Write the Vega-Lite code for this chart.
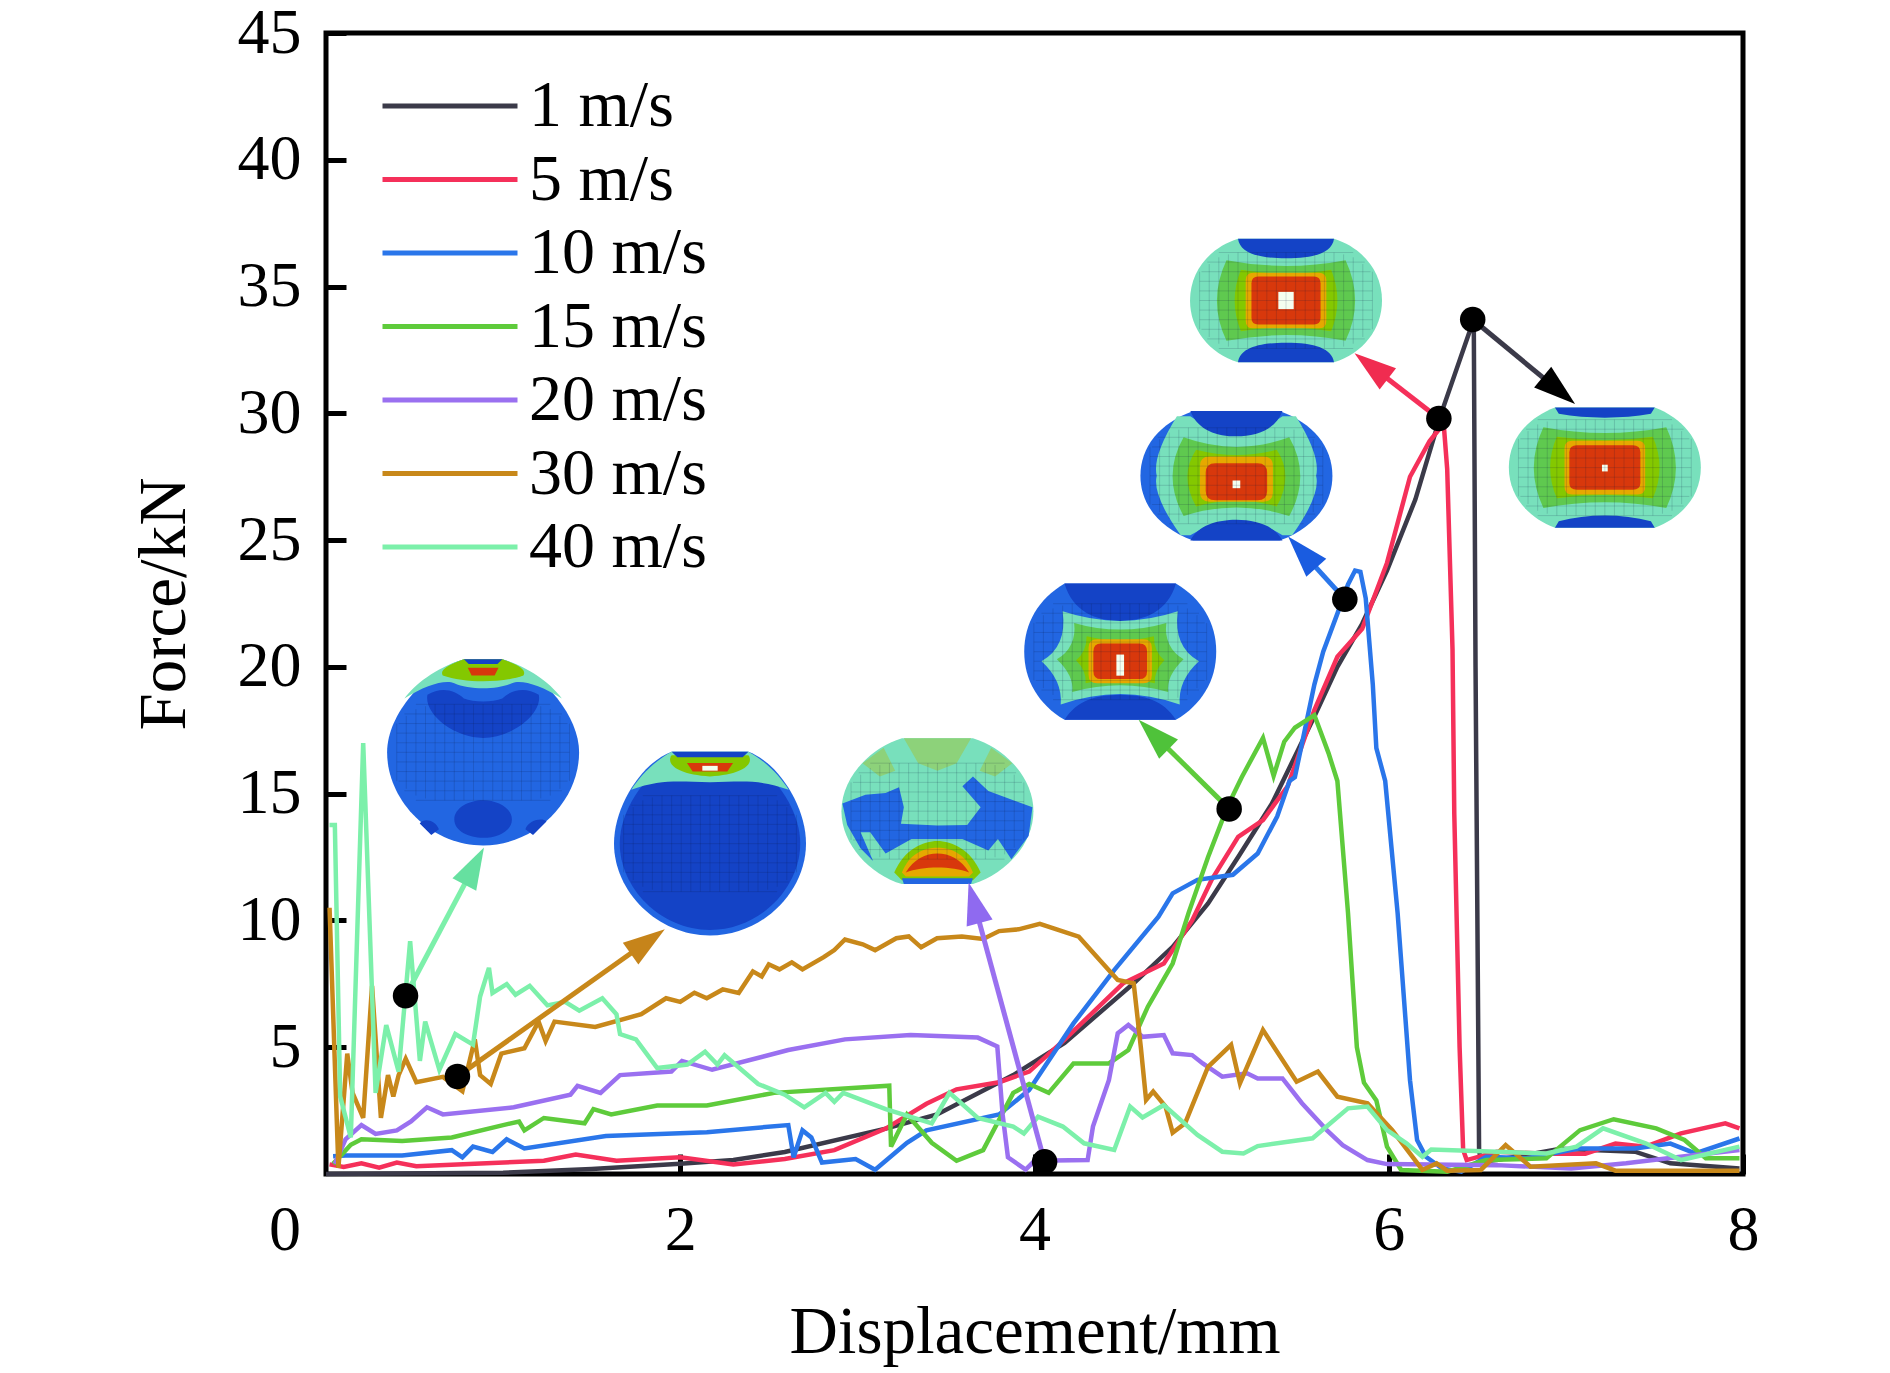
{
"$schema":"https://vega.github.io/schema/vega-lite/v6.json",
"width":1417,"height":1141,
"autosize":"none",
"padding":{"left":326,"top":33,"right":147,"bottom":199},
"background":"white",
"config":{
 "font":"Liberation Serif",
 "view":{"stroke":"black","strokeWidth":5},
 "axis":{"grid":false,"domain":false,"labelFont":"Liberation Serif","titleFont":"Liberation Serif","labelFontSize":64,"titleFontSize":67,"titleFontWeight":"normal","labelColor":"black","titleColor":"black","tickColor":"black","tickWidth":5,"tickSize":-20},
 "legend":{"labelFont":"Liberation Serif"}
},
"datasets":{
"curves":[
{"s":"1 m/s","d":0,"f":0},{"s":"1 m/s","d":1.0,"f":0.05},{"s":"1 m/s","d":1.5,"f":0.2},{"s":"1 m/s","d":2.0,"f":0.4},{"s":"1 m/s","d":2.3,"f":0.55},{"s":"1 m/s","d":2.59,"f":0.87},{"s":"1 m/s","d":3.16,"f":1.79},{"s":"1 m/s","d":3.45,"f":2.35},{"s":"1 m/s","d":3.88,"f":3.9},{"s":"1 m/s","d":4.17,"f":5.17},{"s":"1 m/s","d":4.56,"f":7.52},{"s":"1 m/s","d":4.78,"f":8.96},{"s":"1 m/s","d":4.98,"f":10.67},{"s":"1 m/s","d":5.15,"f":12.5},{"s":"1 m/s","d":5.34,"f":14.6},{"s":"1 m/s","d":5.58,"f":18.04},{"s":"1 m/s","d":5.71,"f":20.0},{"s":"1 m/s","d":5.85,"f":21.7},{"s":"1 m/s","d":5.99,"f":23.8},{"s":"1 m/s","d":6.15,"f":26.6},{"s":"1 m/s","d":6.29,"f":29.87},{"s":"1 m/s","d":6.48,"f":33.7},{"s":"1 m/s","d":6.49,"f":20},{"s":"1 m/s","d":6.51,"f":0.95},{"s":"1 m/s","d":6.52,"f":0.5},{"s":"1 m/s","d":6.61,"f":0.55},{"s":"1 m/s","d":6.97,"f":1.0},{"s":"1 m/s","d":7.39,"f":0.88},{"s":"1 m/s","d":7.59,"f":0.42},{"s":"1 m/s","d":7.98,"f":0.22},
{"s":"5 m/s","d":0.02,"f":0.38},{"s":"5 m/s","d":0.1,"f":0.28},{"s":"5 m/s","d":0.2,"f":0.42},{"s":"5 m/s","d":0.3,"f":0.25},{"s":"5 m/s","d":0.4,"f":0.45},{"s":"5 m/s","d":0.51,"f":0.31},{"s":"5 m/s","d":1.23,"f":0.52},{"s":"5 m/s","d":1.41,"f":0.77},{"s":"5 m/s","d":1.64,"f":0.52},{"s":"5 m/s","d":2.0,"f":0.66},{"s":"5 m/s","d":2.3,"f":0.38},{"s":"5 m/s","d":2.59,"f":0.59},{"s":"5 m/s","d":2.87,"f":0.94},{"s":"5 m/s","d":3.16,"f":1.79},{"s":"5 m/s","d":3.39,"f":2.77},{"s":"5 m/s","d":3.56,"f":3.34},{"s":"5 m/s","d":3.8,"f":3.62},{"s":"5 m/s","d":3.97,"f":4.04},{"s":"5 m/s","d":4.17,"f":5.3},{"s":"5 m/s","d":4.5,"f":7.52},{"s":"5 m/s","d":4.73,"f":8.3},{"s":"5 m/s","d":4.89,"f":10.0},{"s":"5 m/s","d":5.0,"f":11.6},{"s":"5 m/s","d":5.15,"f":13.3},{"s":"5 m/s","d":5.29,"f":13.96},{"s":"5 m/s","d":5.43,"f":15.3},{"s":"5 m/s","d":5.58,"f":18.3},{"s":"5 m/s","d":5.71,"f":20.4},{"s":"5 m/s","d":5.85,"f":21.5},{"s":"5 m/s","d":5.99,"f":24.1},{"s":"5 m/s","d":6.12,"f":27.5},{"s":"5 m/s","d":6.23,"f":28.9},{"s":"5 m/s","d":6.31,"f":29.6},{"s":"5 m/s","d":6.33,"f":27.8},{"s":"5 m/s","d":6.36,"f":20.7},{"s":"5 m/s","d":6.37,"f":14.2},{"s":"5 m/s","d":6.40,"f":5.0},{"s":"5 m/s","d":6.42,"f":0.95},{"s":"5 m/s","d":6.44,"f":0.55},{"s":"5 m/s","d":6.61,"f":0.88},{"s":"5 m/s","d":6.89,"f":0.8},{"s":"5 m/s","d":7.11,"f":0.8},{"s":"5 m/s","d":7.28,"f":1.2},{"s":"5 m/s","d":7.45,"f":1.08},{"s":"5 m/s","d":7.65,"f":1.6},{"s":"5 m/s","d":7.9,"f":2.0},{"s":"5 m/s","d":7.98,"f":1.8},
{"s":"10 m/s","d":0.04,"f":0.7},{"s":"10 m/s","d":0.11,"f":0.73},{"s":"10 m/s","d":0.43,"f":0.73},{"s":"10 m/s","d":0.71,"f":0.94},{"s":"10 m/s","d":0.77,"f":0.66},{"s":"10 m/s","d":0.83,"f":1.08},{"s":"10 m/s","d":0.94,"f":0.87},{"s":"10 m/s","d":1.02,"f":1.37},{"s":"10 m/s","d":1.12,"f":1.01},{"s":"10 m/s","d":1.58,"f":1.5},{"s":"10 m/s","d":2.15,"f":1.65},{"s":"10 m/s","d":2.61,"f":1.93},{"s":"10 m/s","d":2.64,"f":0.66},{"s":"10 m/s","d":2.69,"f":1.72},{"s":"10 m/s","d":2.74,"f":1.44},{"s":"10 m/s","d":2.8,"f":0.45},{"s":"10 m/s","d":2.99,"f":0.59},{"s":"10 m/s","d":3.1,"f":0.17},{"s":"10 m/s","d":3.28,"f":1.23},{"s":"10 m/s","d":3.39,"f":1.72},{"s":"10 m/s","d":3.8,"f":2.35},{"s":"10 m/s","d":3.97,"f":3.31},{"s":"10 m/s","d":4.22,"f":5.94},{"s":"10 m/s","d":4.45,"f":8.04},{"s":"10 m/s","d":4.7,"f":10.15},{"s":"10 m/s","d":4.78,"f":11.07},{"s":"10 m/s","d":4.92,"f":11.6},{"s":"10 m/s","d":5.12,"f":11.8},{"s":"10 m/s","d":5.26,"f":12.64},{"s":"10 m/s","d":5.37,"f":14.1},{"s":"10 m/s","d":5.44,"f":15.5},{"s":"10 m/s","d":5.47,"f":15.65},{"s":"10 m/s","d":5.58,"f":19.3},{"s":"10 m/s","d":5.63,"f":20.6},{"s":"10 m/s","d":5.71,"f":22.1},{"s":"10 m/s","d":5.77,"f":23.25},{"s":"10 m/s","d":5.81,"f":23.8},{"s":"10 m/s","d":5.84,"f":23.75},{"s":"10 m/s","d":5.87,"f":22.7},{"s":"10 m/s","d":5.91,"f":19.3},{"s":"10 m/s","d":5.93,"f":16.8},{"s":"10 m/s","d":5.98,"f":15.5},{"s":"10 m/s","d":6.05,"f":10.3},{"s":"10 m/s","d":6.12,"f":3.7},{"s":"10 m/s","d":6.16,"f":1.34},{"s":"10 m/s","d":6.21,"f":0.68},{"s":"10 m/s","d":6.3,"f":0.22},{"s":"10 m/s","d":6.41,"f":0.09},{"s":"10 m/s","d":6.55,"f":0.68},{"s":"10 m/s","d":6.78,"f":0.62},{"s":"10 m/s","d":7.08,"f":1.01},{"s":"10 m/s","d":7.39,"f":1.01},{"s":"10 m/s","d":7.59,"f":1.2},{"s":"10 m/s","d":7.73,"f":0.81},{"s":"10 m/s","d":7.98,"f":1.4},
{"s":"15 m/s","d":0.04,"f":0.4},{"s":"15 m/s","d":0.14,"f":1.15},{"s":"15 m/s","d":0.2,"f":1.37},{"s":"15 m/s","d":0.43,"f":1.3},{"s":"15 m/s","d":0.71,"f":1.44},{"s":"15 m/s","d":1.0,"f":1.93},{"s":"15 m/s","d":1.09,"f":2.07},{"s":"15 m/s","d":1.12,"f":1.72},{"s":"15 m/s","d":1.23,"f":2.21},{"s":"15 m/s","d":1.46,"f":2.0},{"s":"15 m/s","d":1.51,"f":2.56},{"s":"15 m/s","d":1.61,"f":2.35},{"s":"15 m/s","d":1.87,"f":2.7},{"s":"15 m/s","d":2.15,"f":2.7},{"s":"15 m/s","d":2.53,"f":3.2},{"s":"15 m/s","d":3.18,"f":3.48},{"s":"15 m/s","d":3.19,"f":1.08},{"s":"15 m/s","d":3.28,"f":2.35},{"s":"15 m/s","d":3.42,"f":1.23},{"s":"15 m/s","d":3.56,"f":0.52},{"s":"15 m/s","d":3.71,"f":0.94},{"s":"15 m/s","d":3.88,"f":3.2},{"s":"15 m/s","d":3.97,"f":3.55},{"s":"15 m/s","d":4.08,"f":3.2},{"s":"15 m/s","d":4.22,"f":4.36},{"s":"15 m/s","d":4.42,"f":4.36},{"s":"15 m/s","d":4.53,"f":4.89},{"s":"15 m/s","d":4.64,"f":6.6},{"s":"15 m/s","d":4.78,"f":8.3},{"s":"15 m/s","d":4.87,"f":10.3},{"s":"15 m/s","d":4.98,"f":12.5},{"s":"15 m/s","d":5.09,"f":14.5},{"s":"15 m/s","d":5.17,"f":15.65},{"s":"15 m/s","d":5.29,"f":17.2},{"s":"15 m/s","d":5.35,"f":15.7},{"s":"15 m/s","d":5.41,"f":17.05},{"s":"15 m/s","d":5.47,"f":17.6},{"s":"15 m/s","d":5.58,"f":18.1},{"s":"15 m/s","d":5.66,"f":16.6},{"s":"15 m/s","d":5.71,"f":15.5},{"s":"15 m/s","d":5.77,"f":10.3},{"s":"15 m/s","d":5.82,"f":5.0},{"s":"15 m/s","d":5.86,"f":3.6},{"s":"15 m/s","d":5.93,"f":2.9},{"s":"15 m/s","d":5.99,"f":1.08},{"s":"15 m/s","d":6.07,"f":0.16},{"s":"15 m/s","d":6.33,"f":0.09},{"s":"15 m/s","d":6.55,"f":0.55},{"s":"15 m/s","d":6.89,"f":0.62},{"s":"15 m/s","d":7.08,"f":1.73},{"s":"15 m/s","d":7.27,"f":2.16},{"s":"15 m/s","d":7.51,"f":1.8},{"s":"15 m/s","d":7.67,"f":1.34},{"s":"15 m/s","d":7.79,"f":0.62},{"s":"15 m/s","d":7.98,"f":0.62},
{"s":"20 m/s","d":0.05,"f":0.4},{"s":"20 m/s","d":0.11,"f":1.37},{"s":"20 m/s","d":0.2,"f":1.93},{"s":"20 m/s","d":0.28,"f":1.58},{"s":"20 m/s","d":0.4,"f":1.72},{"s":"20 m/s","d":0.48,"f":2.07},{"s":"20 m/s","d":0.57,"f":2.63},{"s":"20 m/s","d":0.66,"f":2.35},{"s":"20 m/s","d":1.06,"f":2.63},{"s":"20 m/s","d":1.38,"f":3.13},{"s":"20 m/s","d":1.42,"f":3.48},{"s":"20 m/s","d":1.55,"f":3.2},{"s":"20 m/s","d":1.66,"f":3.9},{"s":"20 m/s","d":1.95,"f":4.04},{"s":"20 m/s","d":2.01,"f":4.46},{"s":"20 m/s","d":2.18,"f":4.11},{"s":"20 m/s","d":2.61,"f":4.89},{"s":"20 m/s","d":2.93,"f":5.31},{"s":"20 m/s","d":3.3,"f":5.48},{"s":"20 m/s","d":3.68,"f":5.38},{"s":"20 m/s","d":3.79,"f":5.03},{"s":"20 m/s","d":3.82,"f":2.35},{"s":"20 m/s","d":3.85,"f":0.66},{"s":"20 m/s","d":3.95,"f":0.17},{"s":"20 m/s","d":4.0,"f":0.52},{"s":"20 m/s","d":4.3,"f":0.55},{"s":"20 m/s","d":4.33,"f":1.87},{"s":"20 m/s","d":4.42,"f":3.7},{"s":"20 m/s","d":4.47,"f":5.55},{"s":"20 m/s","d":4.53,"f":5.88},{"s":"20 m/s","d":4.61,"f":5.41},{"s":"20 m/s","d":4.73,"f":5.48},{"s":"20 m/s","d":4.78,"f":4.76},{"s":"20 m/s","d":4.89,"f":4.69},{"s":"20 m/s","d":4.95,"f":4.36},{"s":"20 m/s","d":5.06,"f":3.84},{"s":"20 m/s","d":5.2,"f":3.97},{"s":"20 m/s","d":5.26,"f":3.77},{"s":"20 m/s","d":5.4,"f":3.77},{"s":"20 m/s","d":5.51,"f":2.79},{"s":"20 m/s","d":5.65,"f":1.73},{"s":"20 m/s","d":5.74,"f":1.14},{"s":"20 m/s","d":5.88,"f":0.55},{"s":"20 m/s","d":5.99,"f":0.39},{"s":"20 m/s","d":6.61,"f":0.35},{"s":"20 m/s","d":7.03,"f":0.22},{"s":"20 m/s","d":7.34,"f":0.42},{"s":"20 m/s","d":7.73,"f":0.75},{"s":"20 m/s","d":7.98,"f":0.95},
{"s":"30 m/s","d":0.02,"f":10.5},{"s":"30 m/s","d":0.07,"f":0.24},{"s":"30 m/s","d":0.12,"f":4.75},{"s":"30 m/s","d":0.15,"f":3.2},{"s":"30 m/s","d":0.21,"f":2.21},{"s":"30 m/s","d":0.26,"f":7.42},{"s":"30 m/s","d":0.31,"f":2.21},{"s":"30 m/s","d":0.35,"f":3.9},{"s":"30 m/s","d":0.38,"f":3.06},{"s":"30 m/s","d":0.41,"f":3.9},{"s":"30 m/s","d":0.45,"f":4.54},{"s":"30 m/s","d":0.51,"f":3.62},{"s":"30 m/s","d":0.66,"f":3.83},{"s":"30 m/s","d":0.77,"f":3.27},{"s":"30 m/s","d":0.84,"f":5.31},{"s":"30 m/s","d":0.87,"f":3.9},{"s":"30 m/s","d":0.93,"f":3.55},{"s":"30 m/s","d":0.99,"f":4.75},{"s":"30 m/s","d":1.12,"f":4.96},{"s":"30 m/s","d":1.2,"f":6.01},{"s":"30 m/s","d":1.24,"f":5.24},{"s":"30 m/s","d":1.29,"f":6.01},{"s":"30 m/s","d":1.52,"f":5.8},{"s":"30 m/s","d":1.78,"f":6.3},{"s":"30 m/s","d":1.92,"f":6.93},{"s":"30 m/s","d":2.0,"f":6.79},{"s":"30 m/s","d":2.08,"f":7.15},{"s":"30 m/s","d":2.15,"f":6.93},{"s":"30 m/s","d":2.24,"f":7.28},{"s":"30 m/s","d":2.33,"f":7.14},{"s":"30 m/s","d":2.41,"f":7.99},{"s":"30 m/s","d":2.46,"f":7.79},{"s":"30 m/s","d":2.5,"f":8.27},{"s":"30 m/s","d":2.56,"f":8.07},{"s":"30 m/s","d":2.63,"f":8.35},{"s":"30 m/s","d":2.69,"f":8.07},{"s":"30 m/s","d":2.81,"f":8.55},{"s":"30 m/s","d":2.87,"f":8.83},{"s":"30 m/s","d":2.93,"f":9.25},{"s":"30 m/s","d":3.03,"f":9.06},{"s":"30 m/s","d":3.1,"f":8.83},{"s":"30 m/s","d":3.22,"f":9.3},{"s":"30 m/s","d":3.29,"f":9.37},{"s":"30 m/s","d":3.36,"f":8.94},{"s":"30 m/s","d":3.45,"f":9.3},{"s":"30 m/s","d":3.59,"f":9.37},{"s":"30 m/s","d":3.71,"f":9.27},{"s":"30 m/s","d":3.8,"f":9.58},{"s":"30 m/s","d":3.91,"f":9.65},{"s":"30 m/s","d":4.03,"f":9.87},{"s":"30 m/s","d":4.25,"f":9.36},{"s":"30 m/s","d":4.42,"f":8.04},{"s":"30 m/s","d":4.47,"f":7.65},{"s":"30 m/s","d":4.56,"f":7.52},{"s":"30 m/s","d":4.6,"f":5.02},{"s":"30 m/s","d":4.63,"f":2.92},{"s":"30 m/s","d":4.67,"f":3.25},{"s":"30 m/s","d":4.74,"f":2.66},{"s":"30 m/s","d":4.78,"f":1.63},{"s":"30 m/s","d":4.85,"f":2.0},{"s":"30 m/s","d":4.98,"f":4.23},{"s":"30 m/s","d":5.11,"f":5.09},{"s":"30 m/s","d":5.16,"f":3.58},{"s":"30 m/s","d":5.29,"f":5.68},{"s":"30 m/s","d":5.48,"f":3.64},{"s":"30 m/s","d":5.6,"f":4.04},{"s":"30 m/s","d":5.71,"f":3.05},{"s":"30 m/s","d":5.88,"f":2.79},{"s":"30 m/s","d":6.02,"f":1.73},{"s":"30 m/s","d":6.19,"f":0.16},{"s":"30 m/s","d":6.27,"f":0.42},{"s":"30 m/s","d":6.33,"f":0.13},{"s":"30 m/s","d":6.52,"f":0.16},{"s":"30 m/s","d":6.66,"f":1.14},{"s":"30 m/s","d":6.8,"f":0.29},{"s":"30 m/s","d":7.17,"f":0.42},{"s":"30 m/s","d":7.28,"f":0.13},{"s":"30 m/s","d":7.98,"f":0.13},
{"s":"40 m/s","d":0.02,"f":13.76},{"s":"40 m/s","d":0.05,"f":13.76},{"s":"40 m/s","d":0.08,"f":3.06},{"s":"40 m/s","d":0.14,"f":1.44},{"s":"40 m/s","d":0.21,"f":17.0},{"s":"40 m/s","d":0.28,"f":3.2},{"s":"40 m/s","d":0.34,"f":5.87},{"s":"40 m/s","d":0.41,"f":4.04},{"s":"40 m/s","d":0.475,"f":9.18},{"s":"40 m/s","d":0.53,"f":4.46},{"s":"40 m/s","d":0.56,"f":6.01},{"s":"40 m/s","d":0.64,"f":4.11},{"s":"40 m/s","d":0.73,"f":5.52},{"s":"40 m/s","d":0.83,"f":5.1},{"s":"40 m/s","d":0.87,"f":7.0},{"s":"40 m/s","d":0.92,"f":8.13},{"s":"40 m/s","d":0.94,"f":7.14},{"s":"40 m/s","d":1.02,"f":7.49},{"s":"40 m/s","d":1.07,"f":7.07},{"s":"40 m/s","d":1.15,"f":7.42},{"s":"40 m/s","d":1.25,"f":6.65},{"s":"40 m/s","d":1.35,"f":6.79},{"s":"40 m/s","d":1.43,"f":6.44},{"s":"40 m/s","d":1.56,"f":6.93},{"s":"40 m/s","d":1.64,"f":6.3},{"s":"40 m/s","d":1.66,"f":5.52},{"s":"40 m/s","d":1.75,"f":5.31},{"s":"40 m/s","d":1.87,"f":4.18},{"s":"40 m/s","d":2.04,"f":4.32},{"s":"40 m/s","d":2.14,"f":4.82},{"s":"40 m/s","d":2.21,"f":4.32},{"s":"40 m/s","d":2.25,"f":4.68},{"s":"40 m/s","d":2.44,"f":3.55},{"s":"40 m/s","d":2.59,"f":3.13},{"s":"40 m/s","d":2.7,"f":2.63},{"s":"40 m/s","d":2.82,"f":3.2},{"s":"40 m/s","d":2.87,"f":2.85},{"s":"40 m/s","d":2.92,"f":3.2},{"s":"40 m/s","d":3.16,"f":2.56},{"s":"40 m/s","d":3.42,"f":2.0},{"s":"40 m/s","d":3.52,"f":3.2},{"s":"40 m/s","d":3.68,"f":2.21},{"s":"40 m/s","d":3.88,"f":1.87},{"s":"40 m/s","d":3.94,"f":1.6},{"s":"40 m/s","d":4.02,"f":2.26},{"s":"40 m/s","d":4.16,"f":1.87},{"s":"40 m/s","d":4.28,"f":1.21},{"s":"40 m/s","d":4.45,"f":0.95},{"s":"40 m/s","d":4.54,"f":2.66},{"s":"40 m/s","d":4.61,"f":2.23},{"s":"40 m/s","d":4.73,"f":2.72},{"s":"40 m/s","d":4.92,"f":1.54},{"s":"40 m/s","d":5.06,"f":0.88},{"s":"40 m/s","d":5.18,"f":0.81},{"s":"40 m/s","d":5.26,"f":1.1},{"s":"40 m/s","d":5.57,"f":1.41},{"s":"40 m/s","d":5.77,"f":2.59},{"s":"40 m/s","d":5.88,"f":2.66},{"s":"40 m/s","d":5.99,"f":1.73},{"s":"40 m/s","d":6.1,"f":1.21},{"s":"40 m/s","d":6.19,"f":0.68},{"s":"40 m/s","d":6.24,"f":0.97},{"s":"40 m/s","d":6.89,"f":0.81},{"s":"40 m/s","d":7.06,"f":1.08},{"s":"40 m/s","d":7.21,"f":1.8},{"s":"40 m/s","d":7.45,"f":1.21},{"s":"40 m/s","d":7.65,"f":0.55},{"s":"40 m/s","d":7.98,"f":1.08}
],
"arrows":[
{"s":"1 m/s","d":6.474,"f":33.7,"bd":6.921,"bf":31.12,"td":7.052,"tf":30.37,"bearing":129.5},
{"s":"5 m/s","d":6.283,"f":29.8,"bd":5.941,"bf":31.65,"td":5.807,"tf":32.37,"bearing":307.6},
{"s":"10 m/s","d":5.752,"f":22.67,"bd":5.545,"bf":24.26,"td":5.432,"tf":25.14,"bearing":317.9},
{"s":"15 m/s","d":5.099,"f":14.4,"bd":4.709,"bf":17.09,"td":4.588,"tf":17.92,"bearing":314.6},
{"s":"20 m/s","d":4.057,"f":0.48,"bd":3.672,"bf":10.36,"td":3.628,"tf":11.5,"bearing":344.8},
{"s":"30 m/s","d":0.742,"f":3.85,"bd":1.775,"bf":8.97,"td":1.913,"tf":9.65,"bearing":54.6},
{"s":"40 m/s","d":0.449,"f":7.03,"bd":0.813,"bf":11.83,"td":0.892,"tf":12.88,"bearing":27.9}
],
"origin":[{"d":0,"f":0,"label":"0"}],
"centers":[{"d":0.887,"f":16.63},{"d":2.168,"f":13.03},{"d":3.452,"f":14.31},{"d":4.484,"f":20.6},{"d":5.14,"f":27.54},{"d":5.42,"f":34.45},{"d":7.22,"f":27.86}],
"insets":[
{"d":0.887,"f":16.63,"part":"a_body","level":"blue"},{"d":0.887,"f":16.63,"part":"a_dark","level":"deep"},{"d":0.887,"f":16.63,"part":"a_teal","level":"teal"},{"d":0.887,"f":16.63,"part":"a_lime","level":"lime"},{"d":0.887,"f":16.63,"part":"a_red","level":"red"},{"d":0.887,"f":16.63,"part":"a_cap","level":"deep"},
{"d":2.168,"f":13.03,"part":"b_body","level":"blue"},{"d":2.168,"f":13.03,"part":"b_dark","level":"deep"},{"d":2.168,"f":13.03,"part":"b_teal","level":"teal"},{"d":2.168,"f":13.03,"part":"b_lime","level":"lime"},{"d":2.168,"f":13.03,"part":"b_red","level":"red"},{"d":2.168,"f":13.03,"part":"b_white","level":"white"},{"d":2.168,"f":13.03,"part":"b_cap","level":"deep"},
{"d":3.452,"f":14.31,"part":"c_body","level":"teal"},{"d":3.452,"f":14.31,"part":"c_pale","level":"pale"},{"d":3.452,"f":14.31,"part":"c_blue","level":"blue"},{"d":3.452,"f":14.31,"part":"c_lime","level":"lime"},{"d":3.452,"f":14.31,"part":"c_orange","level":"orange"},{"d":3.452,"f":14.31,"part":"c_red","level":"red"},{"d":3.452,"f":14.31,"part":"c_cap","level":"blue"},
{"d":4.484,"f":20.6,"part":"d_body","level":"blue"},{"d":4.484,"f":20.6,"part":"d_caps","level":"deep"},{"d":4.484,"f":20.6,"part":"d_teal","level":"teal"},{"d":4.484,"f":20.6,"part":"d_green","level":"green"},{"d":4.484,"f":20.6,"part":"d_lime","level":"lime"},{"d":4.484,"f":20.6,"part":"d_orange","level":"orange"},{"d":4.484,"f":20.6,"part":"d_red","level":"red"},{"d":4.484,"f":20.6,"part":"d_white","level":"white"},
{"d":5.14,"f":27.54,"part":"e_body","level":"blue"},{"d":5.14,"f":27.54,"part":"e_teal","level":"teal"},{"d":5.14,"f":27.54,"part":"e_caps","level":"deep"},{"d":5.14,"f":27.54,"part":"e_green","level":"green"},{"d":5.14,"f":27.54,"part":"e_lime","level":"lime"},{"d":5.14,"f":27.54,"part":"e_orange","level":"orange"},{"d":5.14,"f":27.54,"part":"e_red","level":"red"},{"d":5.14,"f":27.54,"part":"e_white","level":"white"},
{"d":5.42,"f":34.45,"part":"f_body","level":"teal"},{"d":5.42,"f":34.45,"part":"f_caps","level":"deep"},{"d":5.42,"f":34.45,"part":"f_green","level":"green"},{"d":5.42,"f":34.45,"part":"f_lime","level":"lime"},{"d":5.42,"f":34.45,"part":"f_orange","level":"orange"},{"d":5.42,"f":34.45,"part":"f_red","level":"red"},{"d":5.42,"f":34.45,"part":"f_white","level":"white"},
{"d":7.22,"f":27.86,"part":"g_body","level":"teal"},{"d":7.22,"f":27.86,"part":"g_caps","level":"deep"},{"d":7.22,"f":27.86,"part":"g_green","level":"green"},{"d":7.22,"f":27.86,"part":"g_lime","level":"lime"},{"d":7.22,"f":27.86,"part":"g_orange","level":"orange"},{"d":7.22,"f":27.86,"part":"g_red","level":"red"},{"d":7.22,"f":27.86,"part":"g_white","level":"white"}
]
},
"layer":[
{"data":{"name":"insets"},
 "mark":{"type":"point","filled":true,"opacity":1,"strokeWidth":0,"size":36864},
 "encoding":{
  "x":{"field":"d","type":"quantitative","scale":{"domain":[0,8],"nice":false},"axis":{"values":[2,4,6,8],"format":"d","title":"Displacement/mm","labelPadding":44,"labelFlush":false,"titlePadding":37}},
  "y":{"field":"f","type":"quantitative","scale":{"domain":[0,45],"nice":false},"axis":{"values":[5,10,15,20,25,30,35,40,45],"format":"d","title":"Force/kN","labelPadding":45,"titlePadding":39}},
  "fill":{"field":"level","type":"nominal","legend":null,"scale":{"domain":["blue","deep","teal","pale","green","lime","orange","red","white","1 m/s","5 m/s","10 m/s","15 m/s","20 m/s","30 m/s","40 m/s"],"range":["#2266e2","#1443c6","#78e0bc","#8dd27a","#5fc94f","#84c800","#e6a800","#d8380c","#f4fff0","#000000","#f02c50","#1a5ce0","#4fc23a","#8f6af0","#c6841a","#66e0a0"]}},
  "shape":{"field":"part","type":"nominal","legend":null,"scale":{
   "domain":["a_body","a_dark","a_teal","a_lime","a_red","a_cap","b_body","b_dark","b_teal","b_lime","b_red","b_white","b_cap","c_body","c_pale","c_blue","c_lime","c_orange","c_red","c_cap","d_body","d_caps","d_teal","d_green","d_lime","d_orange","d_red","d_white","e_body","e_teal","e_caps","e_green","e_lime","e_orange","e_red","e_white","f_body","f_caps","f_green","f_lime","f_orange","f_red","f_white","g_body","g_caps","g_green","g_lime","g_orange","g_red","g_white"],
   "range":[
   "M-.2,-.97H.2C.6,-.85 1,-.4 1,0C1,.5 .55,.97 0,.97C-.55,.97 -1,.5 -1,0C-1,-.4 -.6,-.85 -.2,-.97Z",
   "M-.58,-.6C-.45,-.68 -.3,-.66 -.2,-.56C-.1,-.52 .1,-.52 .2,-.56C.3,-.66 .45,-.68 .58,-.6C.62,-.4 .3,-.15 0,-.15C-.3,-.15 -.62,-.4 -.58,-.6ZM-.3,.7C-.3,.58 -.15,.5 0,.5C.15,.5 .3,.58 .3,.7C.3,.82 .15,.89 0,.89C-.15,.89 -.3,.82 -.3,.7ZM-.66,.74C-.62,.68 -.5,.7 -.46,.8L-.54,.86ZM.66,.72C.62,.68 .48,.7 .44,.8L.52,.86Z",
   "M-.2,-.97H.2C.5,-.88 .72,-.7 .82,-.56C.6,-.7 .4,-.76 .3,-.72C.15,-.65 -.15,-.65 -.3,-.72C-.4,-.76 -.6,-.7 -.82,-.56C-.72,-.7 -.5,-.88 -.2,-.97Z",
   "M-.2,-.97H.2C.4,-.9 .45,-.85 .42,-.8C.2,-.72 -.2,-.72 -.42,-.8C-.45,-.85 -.4,-.9 -.2,-.97Z",
   "M-.16,-.88H.16L.12,-.8H-.12Z",
   "M-.2,-.97H.2L.15,-.92H-.15Z",
   "M-.4,-.958H.4C.7,-.85 1,-.4 1,0C1,.5 .55,.958 0,.958C-.55,.958 -1,.5 -1,0C-1,-.4 -.7,-.85 -.4,-.958Z",
   "M-.34,-.9H.34C.6,-.8 .94,-.4 .94,0C.94,.46 .52,.9 0,.9C-.52,.9 -.94,.46 -.94,0C-.94,-.4 -.6,-.8 -.34,-.9Z",
   "M-.4,-.958H.4C.55,-.88 .72,-.72 .82,-.56C.5,-.68 .3,-.64 0,-.64C-.3,-.64 -.5,-.68 -.82,-.56C-.72,-.72 -.55,-.88 -.4,-.958Z",
   "M-.4,-.92H.4C.46,-.84 .36,-.72 0,-.7C-.36,-.72 -.46,-.84 -.4,-.92Z",
   "M-.24,-.84H.24L.18,-.75H-.18Z",
   "M-.08,-.81H.08V-.76H-.08Z",
   "M-.4,-.958H.4L.34,-.9H-.34Z",
   "M-.37,-.76H.37C.7,-.66 1,-.35 1,0C1,.35 .7,.66 .37,.76H-.37C-.7,.66 -1,.35 -1,0C-1,-.35 -.7,-.66 -.37,-.76Z",
   "M-.35,-.76H.35L.2,-.5L0,-.42L-.2,-.5ZM-.78,-.5L-.56,-.66L-.44,-.42L-.6,-.36ZM.78,-.5L.56,-.66L.44,-.42L.6,-.36Z",
   "M-.99,-.08L-.75,-.17L-.54,-.19L-.4,-.25L-.35,-.04L-.38,.13L0,.15L.31,.145L.45,-.04L.26,-.26L.37,-.36L.53,-.21L.99,-.04L.95,.26L.77,.5L.63,.29L.53,.41L.26,.29L0,.29L-.27,.29L-.54,.44L-.7,.22L-.8,.22L-.67,.52L-.8,.39L-.94,.145Z",
   "M-.45,.64C-.35,.4 -.15,.31 0,.31C.15,.31 .35,.4 .45,.64L.37,.72H-.37Z",
   "M-.37,.64C-.3,.45 -.15,.38 0,.38C.15,.38 .3,.45 .37,.64L.33,.68H-.33Z",
   "M-.33,.64C-.25,.5 -.12,.44 0,.44C.12,.44 .25,.5 .33,.64C.15,.57 -.15,.57 -.33,.64Z",
   "M-.37,.7H.37L.35,.76H-.35Z",
   "M-.58,-.71H.58C.85,-.55 1,-.3 1,0C1,.3 .85,.55 .58,.71H-.58C-.85,.55 -1,.3 -1,0C-1,-.3 -.85,-.55 -.58,-.71Z",
   "M-.58,-.71H.58C.5,-.42 .25,-.32 0,-.32C-.25,-.32 -.5,-.42 -.58,-.71ZM-.58,.71H.58C.45,.5 .25,.45 0,.45C-.25,.45 -.45,.5 -.58,.71Z",
   "M-.6,-.42Q0,-.22 .6,-.42Q.55,-.05 .82,.1Q.6,.3 .62,.55Q0,.33 -.62,.55Q-.6,.3 -.82,.1Q-.55,-.05 -.6,-.42Z",
   "M-.48,-.3Q0,-.16 .48,-.3Q.45,-.05 .66,.08Q.48,.25 .5,.42Q0,.28 -.5,.42Q-.48,.25 -.66,.08Q-.45,-.05 -.48,-.3Z",
   "M-.35,-.16Q0,-.08 .35,-.16Q.35,0 .46,.09Q.35,.2 .36,.33Q0,.24 -.36,.33Q-.35,.2 -.46,.09Q-.35,0 -.35,-.16Z",
   "M-.24,-.13H.24Q.33,-.13 .33,-.04V.24Q.33,.33 .24,.33H-.24Q-.33,.33 -.33,.24V-.04Q-.33,-.13 -.24,-.13Z",
   "M-.2,-.085H.2Q.28,-.085 .28,0V.2Q.28,.285 .2,.285H-.2Q-.28,.285 -.28,.2V0Q-.28,-.085 -.2,-.085Z",
   "M-.04,.03H.04V.25H-.04Z",
   "M-.45,-.675H.45C.8,-.55 1,-.3 1,0C1,.3 .8,.55 .45,.675H-.45C-.8,.55 -1,.3 -1,0C-1,-.3 -.8,-.55 -.45,-.675Z",
   "M-.62,-.62L-.48,-.62Q0,-.28 .48,-.62L.62,-.62Q.88,-.2 .83,0Q.88,.2 .58,.62L.48,.62Q0,.32 -.48,.62L-.58,.62Q-.88,.2 -.83,0Q-.88,-.2 -.62,-.62Z",
   "M-.48,-.675H.48C.4,-.47 .2,-.41 0,-.41C-.2,-.41 -.4,-.47 -.48,-.675ZM-.48,.675H.48C.4,.52 .2,.46 0,.46C-.2,.46 -.4,.52 -.48,.675Z",
   "M-.55,-.4Q0,-.2 .55,-.4Q.78,0 .55,.42Q0,.24 -.55,.42Q-.78,0 -.55,-.4Z",
   "M-.42,-.27Q0,-.16 .42,-.27Q.6,0 .42,.32Q0,.2 -.42,.32Q-.6,0 -.42,-.27Z",
   "M-.28,-.2H.28Q.38,-.2 .38,-.1V.17Q.38,.27 .28,.27H-.28Q-.38,.27 -.38,.17V-.1Q-.38,-.2 -.28,-.2Z",
   "M-.22,-.13H.22Q.32,-.13 .32,-.03V.16Q.32,.256 .22,.256H-.22Q-.32,.256 -.32,.16V-.03Q-.32,-.13 -.22,-.13Z",
   "M-.04,.05H.04V.13H-.04Z",
   "M-.5,-.644H.5C.8,-.55 1,-.3 1,0C1,.3 .8,.55 .5,.644H-.5C-.8,.55 -1,.3 -1,0C-1,-.3 -.8,-.55 -.5,-.644Z",
   "M-.5,-.644H.5C.48,-.5 .3,-.44 0,-.44C-.3,-.44 -.48,-.5 -.5,-.644ZM-.5,.644H.5C.48,.5 .3,.44 0,.44C-.3,.44 -.48,.5 -.5,.644Z",
   "M-.62,-.42Q0,-.3 .62,-.42Q.82,0 .62,.42Q0,.3 -.62,.42Q-.82,0 -.62,-.42Z",
   "M-.47,-.32Q0,-.24 .47,-.32Q.6,0 .47,.32Q0,.24 -.47,.32Q-.6,0 -.47,-.32Z",
   "M-.34,-.29H.34Q.42,-.29 .42,-.21V.21Q.42,.29 .34,.29H-.34Q-.42,.29 -.42,.21V-.21Q-.42,-.29 -.34,-.29Z",
   "M-.29,-.25H.29Q.36,-.25 .36,-.18V.18Q.36,.25 .29,.25H-.29Q-.36,.25 -.36,.18V-.18Q-.36,-.25 -.29,-.25Z",
   "M-.08,-.09H.08V.09H-.08Z",
   "M-.52,-.627H.52C.8,-.52 1,-.3 1,0C1,.3 .8,.52 .52,.627H-.52C-.8,.52 -1,.3 -1,0C-1,-.3 -.8,-.52 -.52,-.627Z",
   "M-.52,-.627H.52L.48,-.56Q.25,-.52 0,-.52Q-.25,-.52 -.48,-.56ZM-.52,.627H.52L.48,.56Q.25,.5 0,.5Q-.25,.5 -.48,.56Z",
   "M-.64,-.42Q0,-.3 .64,-.42Q.84,0 .64,.42Q0,.3 -.64,.42Q-.84,0 -.64,-.42Z",
   "M-.5,-.32Q0,-.25 .5,-.32Q.64,0 .5,.32Q0,.25 -.5,.32Q-.64,0 -.5,-.32Z",
   "M-.34,-.28H.34Q.42,-.28 .42,-.2V.2Q.42,.28 .34,.28H-.34Q-.42,.28 -.42,.2V-.2Q-.42,-.28 -.34,-.28Z",
   "M-.29,-.234H.29Q.37,-.234 .37,-.16V.16Q.37,.23 .29,.23H-.29Q-.37,.23 -.37,.16V-.16Q-.37,-.234 -.29,-.234Z",
   "M-.03,-.03H.03V.04H-.03Z"
   ]}}
 }},
{"data":{"name":"centers"},
 "mark":{"type":"point","filled":false,"opacity":1,"stroke":"#0a1a40","strokeWidth":0.8,"strokeOpacity":0.2,"size":36864,
  "shape":"M-.7,-.5H.7M-.82,-.4H.82M-.88,-.3H.88M-.9,-.2H.9M-.9,-.1H.9M-.9,0H.9M-.9,.1H.9M-.9,.2H.9M-.88,.3H.88M-.82,.4H.82M-.7,.5H.7M-.9,-.3V.3M-.8,-.38V.38M-.7,-.45V.45M-.6,-.48V.48M-.5,-.5V.5M-.4,-.5V.5M-.3,-.5V.5M-.2,-.5V.5M-.1,-.5V.5M0,-.5V.5M.1,-.5V.5M.2,-.5V.5M.3,-.5V.5M.4,-.5V.5M.5,-.5V.5M.6,-.48V.48M.7,-.45V.45M.8,-.38V.38M.9,-.3V.3"},
 "encoding":{
  "x":{"field":"d","type":"quantitative"},"y":{"field":"f","type":"quantitative"}
 }},
{"data":{"name":"curves"},
 "mark":{"type":"line","strokeWidth":4.5,"interpolate":"linear"},
 "encoding":{
  "x":{"field":"d","type":"quantitative"},
  "y":{"field":"f","type":"quantitative"},
  "stroke":{"field":"s","type":"nominal","sort":null,
   "scale":{"domain":["1 m/s","5 m/s","10 m/s","15 m/s","20 m/s","30 m/s","40 m/s"],"range":["#3b3a49","#f5305a","#2a76ea","#5ecb3b","#9a70f0","#c8881a","#7cf0aa"]},
   "legend":{"title":null,"orient":"none","legendX":91,"legendY":40,"padding":0,"symbolType":"M-3,0H3","symbolSize":2025,"symbolStrokeWidth":5,"labelFontSize":66,"labelColor":"black","labelLimit":0,"labelOffset":46,"rowPadding":7.5}}
 }},
{"data":{"name":"arrows"},
 "mark":{"type":"rule","strokeWidth":5},
 "encoding":{
  "x":{"field":"d","type":"quantitative"},"y":{"field":"f","type":"quantitative"},
  "x2":{"field":"bd"},"y2":{"field":"bf"},
  "stroke":{"field":"s","type":"nominal","legend":null}
 }},
{"data":{"name":"arrows"},
 "mark":{"type":"point","filled":true,"opacity":1,"strokeWidth":0,"size":7056,"shape":"M0,0L.32,1L-.32,1Z"},
 "encoding":{
  "x":{"field":"td","type":"quantitative"},"y":{"field":"tf","type":"quantitative"},
  "angle":{"field":"bearing","type":"quantitative","scale":null},
  "fill":{"field":"s","type":"nominal","legend":null}
 }},
{"data":{"name":"arrows"},
 "mark":{"type":"point","filled":true,"opacity":1,"strokeWidth":0,"size":650,"shape":"circle","color":"black"},
 "encoding":{
  "x":{"field":"d","type":"quantitative"},"y":{"field":"f","type":"quantitative"}
 }},
{"data":{"name":"origin"},
 "mark":{"type":"text","font":"Liberation Serif","fontSize":64,"dx":-41,"dy":57,"baseline":"middle","color":"black"},
 "encoding":{
  "x":{"field":"d","type":"quantitative"},"y":{"field":"f","type":"quantitative"},
  "text":{"field":"label"}
 }}
]
}
